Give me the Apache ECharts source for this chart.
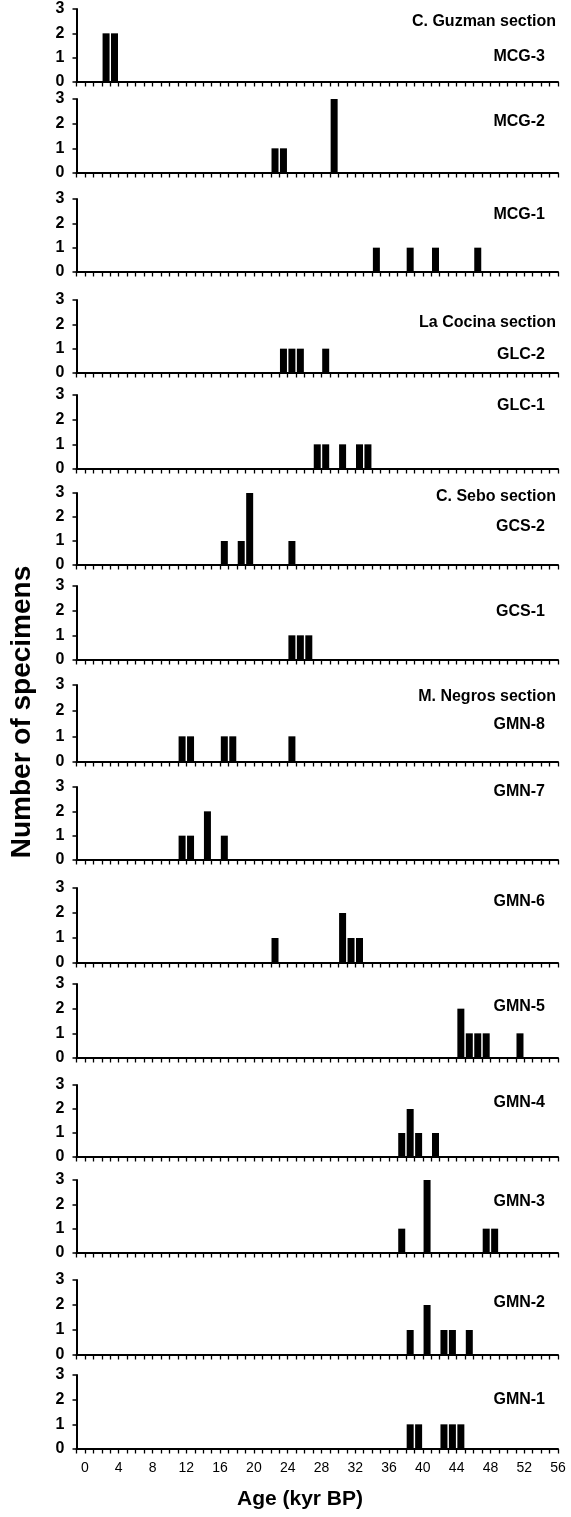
<!DOCTYPE html>
<html>
<head>
<meta charset="utf-8">
<script src="https://cdn.jsdelivr.net/npm/echarts@6/dist/echarts.min.js"></script>
<style>
html,body{margin:0;padding:0;background:#fff;}
#chart{width:571px;height:1517px;}
</style>
</head>
<body>
<div id="chart"></div>
<script>
// ---- data: age bins (kyr BP, bin start) and number of specimens per sample ----
const panelNames = ['MCG-3','MCG-2','MCG-1','GLC-2','GLC-1','GCS-2','GCS-1','GMN-8','GMN-7','GMN-6','GMN-5','GMN-4','GMN-3','GMN-2','GMN-1'];
const sectionNames = ['C. Guzman section','La Cocina section','C. Sebo section','M. Negros section'];
const sectionFirstPanel = [0, 3, 5, 7];

const agesMCG3 = [2, 3];               const countsMCG3 = [2, 2];
const agesMCG2 = [22, 23, 29];         const countsMCG2 = [1, 1, 3];
const agesMCG1 = [34, 38, 41, 46];     const countsMCG1 = [1, 1, 1, 1];
const agesGLC2 = [23, 24, 25, 28];     const countsGLC2 = [1, 1, 1, 1];
const agesGLC1 = [27, 28, 30, 32, 33]; const countsGLC1 = [1, 1, 1, 1, 1];
const agesGCS2 = [16, 18, 19, 24];     const countsGCS2 = [1, 1, 3, 1];
const agesGCS1 = [24, 25, 26];         const countsGCS1 = [1, 1, 1];
const agesGMN8 = [11, 12, 16, 17, 24]; const countsGMN8 = [1, 1, 1, 1, 1];
const agesGMN7 = [11, 12, 14, 16];     const countsGMN7 = [1, 1, 2, 1];
const agesGMN6 = [22, 30, 31, 32];     const countsGMN6 = [1, 2, 1, 1];
const agesGMN5 = [44, 45, 46, 47, 51]; const countsGMN5 = [2, 1, 1, 1, 1];
const agesGMN4 = [37, 38, 39, 41];     const countsGMN4 = [1, 2, 1, 1];
const agesGMN3 = [37, 40, 47, 48];     const countsGMN3 = [1, 3, 1, 1];
const agesGMN2 = [38, 40, 42, 43, 45]; const countsGMN2 = [1, 2, 1, 1, 1];
const agesGMN1 = [38, 39, 42, 43, 44]; const countsGMN1 = [1, 1, 1, 1, 1];

const xMin = -1, xMax = 56, xTickLabelStep = 4;
const yMin = 0, yMax = 3;

const xTitle = 'Age (kyr BP)';
const yTitle = 'Number of specimens';

// ---- layout (pixels) ----
const panelTop    = [9, 99, 199, 300, 395, 493, 586, 685, 787, 888, 984, 1085, 1180, 1280, 1375];
const panelBottom = [82, 173, 272, 373, 469, 565, 660, 762, 860, 963, 1058, 1157, 1253, 1355, 1449];
const labelY      = [57, 122, 215, 355, 406, 527, 612, 725, 792, 902, 1007, 1103, 1202, 1303, 1400];
const sectionY    = [22, 323, 497, 697];

const allAges = [agesMCG3, agesMCG2, agesMCG1, agesGLC2, agesGLC1, agesGCS2, agesGCS1, agesGMN8, agesGMN7, agesGMN6, agesGMN5, agesGMN4, agesGMN3, agesGMN2, agesGMN1];
const allCounts = [countsMCG3, countsMCG2, countsMCG1, countsGLC2, countsGLC1, countsGCS2, countsGCS1, countsGMN8, countsGMN7, countsGMN6, countsGMN5, countsGMN4, countsGMN3, countsGMN2, countsGMN1];

const FONT = '"Liberation Sans", Arial, Helvetica, sans-serif';
const gridLeft = 76.5, gridRightEdge = 558;

const grids = [], xAxes = [], yAxes = [], series = [], graphics = [];
const n = panelNames.length;
for (let i = 0; i < n; i++) {
  const last = i === n - 1;
  grids.push({left: gridLeft, width: gridRightEdge - gridLeft, top: panelTop[i], height: panelBottom[i] - panelTop[i]});
  xAxes.push({
    type: 'value', gridIndex: i, min: xMin, max: xMax, interval: 1,
    axisLine: {show: true, onZero: false, lineStyle: {color: '#000', width: 2}},
    axisTick: {show: true, length: 4.5, lineStyle: {color: '#000', width: 1.3}},
    splitLine: {show: false},
    axisLabel: {
      show: last, color: '#000', fontSize: 14, fontFamily: FONT, margin: 12,
      formatter: v => (v >= 0 && v % xTickLabelStep === 0) ? String(v) : ''
    }
  });
  yAxes.push({
    type: 'value', gridIndex: i, min: yMin, max: yMax, interval: 1,
    axisLine: {show: true, onZero: false, lineStyle: {color: '#000', width: 2}},
    axisTick: {show: true, length: 4, lineStyle: {color: '#000', width: 1.5}},
    splitLine: {show: false},
    axisLabel: {color: '#000', fontSize: 16, fontWeight: 'bold', fontFamily: FONT, margin: 12}
  });
  series.push({
    type: 'bar', xAxisIndex: i, yAxisIndex: i, barWidth: 7,
    itemStyle: {color: '#000'},
    data: allAges[i].map((a, k) => [a + 0.5, allCounts[i][k]])
  });
  graphics.push({
    type: 'text', x: 545, y: labelY[i],
    style: {text: panelNames[i], textAlign: 'right', textVerticalAlign: 'middle',
            font: 'bold 16px ' + FONT, fill: '#000'}
  });
}
sectionNames.forEach((s, j) => {
  graphics.push({
    type: 'text', x: 556, y: sectionY[j],
    style: {text: s, textAlign: 'right', textVerticalAlign: 'middle',
            font: 'bold 16px ' + FONT, fill: '#000'}
  });
});
graphics.push({
  type: 'text', x: 300, y: 1499,
  style: {text: xTitle, textAlign: 'center', textVerticalAlign: 'middle',
          font: 'bold 21px ' + FONT, fill: '#000'}
});
graphics.push({
  type: 'text', x: 22, y: 712, rotation: Math.PI / 2,
  style: {text: yTitle, textAlign: 'center', textVerticalAlign: 'middle',
          font: 'bold 28px ' + FONT, fill: '#000'}
});

const chart = echarts.init(document.getElementById('chart'), null, {renderer: 'canvas'});
chart.setOption({
  animation: false,
  backgroundColor: '#fff',
  grid: grids,
  xAxis: xAxes,
  yAxis: yAxes,
  series: series,
  graphic: graphics
});
</script>
</body>
</html>
